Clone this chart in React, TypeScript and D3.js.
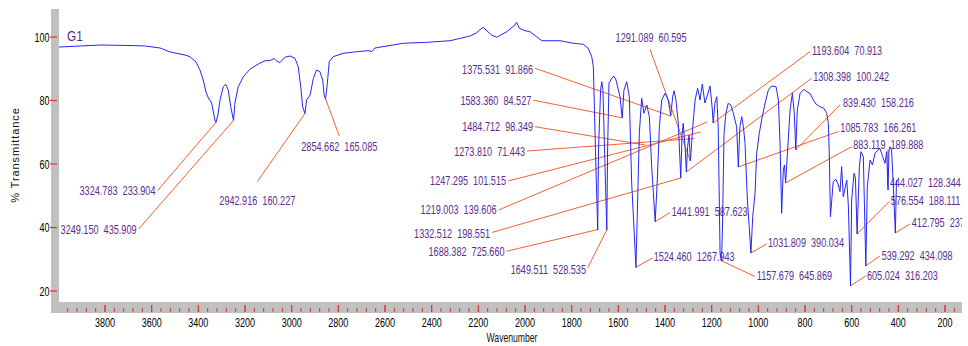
import * as d3 from "d3";

// spectrum (cm-1, %T)
const wavenumber = [
  3997, 3907, 3821, 3693, 3629, 3564, 3521, 3457, 3436, 3410, 3393, 3379, 3367, 3357, 3343, 3329,
  3324.8, 3316, 3307, 3293, 3283, 3272, 3261, 3249.2, 3243, 3229, 3207, 3179, 3143, 3114, 3093,
  3076, 3064, 3050, 3029, 3007, 2986, 2972, 2961, 2953, 2942.9, 2936, 2921, 2907, 2893, 2879,
  2867, 2861, 2854.7, 2847, 2839, 2822, 2779, 2721, 2673, 2656, 2643, 2522, 2421, 2321, 2236,
  2207, 2189, 2179, 2164, 2143, 2121, 2078, 2043, 2036, 2024, 2000, 1979, 1950, 1928, 1850,
  1793, 1750, 1729, 1714, 1707, 1698, 1688.4, 1685, 1676, 1671, 1666, 1659, 1649.5, 1646, 1640,
  1628, 1620, 1610, 1593, 1583.4, 1576, 1564, 1553, 1543, 1524.5, 1519, 1510, 1500, 1490, 1478,
  1467, 1457, 1442.0, 1433, 1424, 1414, 1400, 1386, 1375.5, 1367, 1361, 1353, 1343, 1332.5, 1327,
  1322, 1314, 1308.4, 1303, 1297, 1291.1, 1281, 1271, 1260, 1250, 1240, 1229, 1218, 1207, 1197,
  1193.6, 1186, 1178, 1172, 1164, 1157.7, 1154, 1147, 1139, 1129, 1118, 1107, 1093, 1085.8, 1079,
  1071, 1064, 1057, 1047, 1039, 1031.8, 1024, 1014, 1007, 996, 986, 971, 957, 943, 924, 914, 907,
  900, 893, 888, 883.1, 864, 854, 846, 839.4, 833, 821, 804, 791, 779, 764, 753, 736, 719, 707,
  700, 696, 691, 679, 667, 657, 650, 643, 636, 621, 614, 605.0, 600, 590, 584, 576.6, 567, 560,
  550, 539.3, 533, 521, 511, 500, 487, 479, 467, 457, 450, 444.0, 440, 436, 429, 424, 412.8, 408, 406,
];
const transmittance = [
  96.85, 97.17, 97.48, 97.32, 97.17, 96.54, 95.28, 94.33, 93.8, 92.13, 89.61, 86.46, 82.68, 80.79,
  79.21, 73.86, 73.07, 75.43, 80.16, 84.35, 85.1, 83.31, 78.05, 73.7, 79.21, 84.35, 87.5, 89.83,
  91.5, 92.54, 92.54, 93.23, 92.44, 91.91, 93.61, 94.02, 93.29, 90.65, 84.35, 78.05, 75.91, 80.16,
  81.73, 86.99, 89.61, 89.07, 86.46, 81.73, 80.47, 85.42, 92.22, 93.8, 94.87, 95.37, 95.69, 95.43,
  96.54, 98.02, 98.33, 98.83, 100.31, 101.35, 102.52, 103.06, 101.98, 100.63, 99.91, 101.67,
  103.78, 104.63, 102.74, 101.98, 101.67, 100.09, 98.83, 98.83, 98.02, 97.7, 96.44, 93.8, 90.65,
  64.41, 39.21, 64.41, 83.31, 85.92, 83.31, 64.41, 39.21, 64.41, 85.51, 86.99, 87.72, 86.46, 81.2,
  74.49, 83.31, 85.92, 81.2, 54.43, 27.4, 43.4, 69.67, 80.69, 75.97, 78.58, 74.9, 59.15, 41.83,
  54.96, 71.75, 80.16, 82.27, 80.16, 75.12, 81.2, 83.09, 80.16, 72.82, 55.59, 69.13, 72.82, 65.45,
  57.48, 65.45, 69.13, 60.94, 71.75, 80.16, 83.84, 80.16, 85.2, 79.21, 81.73, 84.57, 77.01, 72.91,
  79.12, 81.2, 71.75, 31.87, 29.45, 39.21, 69.67, 75.97, 79.12, 78.58, 75.97, 71.75, 59.06, 71.75,
  74.9, 71.75, 66.52, 48.66, 40.25, 31.97, 43.4, 50.77, 63.37, 69.67, 73.86, 79.12, 83.31, 84.57,
  84.35, 80.16, 66.52, 44.47, 58.11, 59.69, 54.02, 77.01, 82.27, 75.97, 64.41, 77.01, 82.27, 83.53,
  82.68, 82.27, 80.16, 78.9, 78.05, 77.54, 75.97, 72.82, 63.37, 43.4, 54.43, 55.18, 53.39, 51.28,
  59.15, 49.7, 54.96, 46.55, 21.57, 48.66, 57.07, 55.59, 37.95, 59.15, 63.87, 62.3, 27.87, 52.85,
  61.26, 59.69, 63.37, 64.41, 64.94, 62.3, 60.22, 63.87, 51.81, 64.41, 65.45, 64.41, 57.07, 38.27,
  54.65, 54.96,
];

// peak picks: wavenumber and intensity as printed
const peakWavenumbers = [
  3324.783, 3249.15, 2942.916, 2854.662, 1375.531, 1583.36, 1484.712, 1273.81, 1247.295, 1219.003,
  1332.512, 1688.382, 1649.511, 1291.089, 1193.604, 1308.398, 839.43, 1085.783, 883.119, 444.027,
  576.554, 412.795, 1441.991, 1031.809, 539.292, 1524.46, 1157.679, 605.024,
];
const peakIntensities = [
  233.904, 435.909, 160.227, 165.085, 91.866, 84.527, 98.349, 71.443, 101.515, 139.606, 198.551,
  725.66, 528.535, 60.595, 70.913, 100.242, 158.216, 166.261, 189.888, 128.344, 188.111, 237.514,
  587.623, 390.034, 434.098, 1267.943, 645.869, 316.203,
];

const xTickValues = [3800, 3600, 3400, 3200, 3000, 2800, 2600, 2400, 2200, 2000, 1800, 1600, 1400, 1200, 1000, 800, 600, 400, 200];
const yTickValues = [20, 40, 60, 80, 100];

// callout placement: leader start offset from tip (px), text offset from start, anchor, optional tip %T
const callouts: [number, number, number, number, string, number?][] = [
  [-58.4, 68.2, -2, 0, "end"],
  [-95, 108.8, -2, 0, "end"],
  [-47.7, 68.2, 0, 19.3, "middle"],
  [13.7, 37, 0, 10.7, "middle"],
  [-135.7, -47.7, -2, 1, "end"],
  [-88.9, -17.7, -2, 0.7, "end"],
  [-110.2, -18.3, -2, 0, "end", 65.98],
  [-167.4, 12.5, -2, 0, "end", 68.03],
  [-192.6, 49, -2, 0, "end", 70.08],
  [-208.7, 88, -2, 0, "end", 73.23],
  [-188.7, 54.5, -2, 0.8, "end"],
  [-91.2, 21.7, -2, 0.6, "end"],
  [-19.3, 38.3, -1.5, 1, "end"],
  [-40.4, -111.7, 1, -12, "middle"],
  [96.8, -71.3, 2, -1, "start"],
  [125.3, -93.7, 1.5, -1.3, "start"],
  [44.2, -45, 3, -2, "start"],
  [100, -35.3, 2, -3.7, "start"],
  [66.1, -36.3, 1.5, -1.7, "start"],
  [-0.6, 37, 2.5, -4.3, "start", 64.6],
  [32.2, -32.3, 1.5, -0.7, "start"],
  [14.7, -9, 1.7, -1.3, "start"],
  [14.8, -9, 1.7, -1, "start"],
  [15.8, -9, 1.3, -1.3, "start"],
  [14.2, -10, 1.7, 0, "start"],
  [16.7, -9.2, 1, -1, "start"],
  [33.5, 15.7, 1.7, -0.7, "start"],
  [15.5, -10, 1, 0, "start"],
];

const FONT = "'Liberation Sans', Arial, sans-serif";
const LABEL = "#5b2d8e";
const LEADER = "#f2622e";
const TICK = "#e8302a";
const BAND = "#c0c0c0";

function Condensed({ x, y, anchor = "start", size = 12, sx = 0.76, fill = "#000", children }: any) {
  return (
    <g transform={`translate(${x},${y}) scale(${sx},1)`}>
      <text textAnchor={anchor} dominantBaseline="central" fontSize={size} fontFamily={FONT} fill={fill}>
        {children}
      </text>
    </g>
  );
}

export default function App() {
  const width = 968;
  const height = 346;
  const left = 59;
  const right = 962;
  const top = 9;
  const bottom = 302;

  const x = d3.scaleLinear().domain([3800, 200]).range([105, 945]);
  const y = d3.scaleLinear().domain([100, 20]).range([37, 291]);

  const pts = wavenumber.map((w, i) => [w, transmittance[i]] as [number, number]);
  const line = d3
    .line<[number, number]>()
    .x((d) => x(d[0]))
    .y((d) => y(d[1]));

  const interp = (w: number) => {
    for (let i = 0; i < pts.length - 1; i++) {
      const [w0, t0] = pts[i];
      const [w1, t1] = pts[i + 1];
      if (w <= w0 && w >= w1) return t0 + ((w0 - w) / (w0 - w1)) * (t1 - t0);
    }
    return pts[pts.length - 1][1];
  };

  const minorTicks = d3.range(3960, x.invert(right), -40);

  return (
    <svg width={width} height={height} style={{ position: "absolute", left: 0, top: 0, background: "#fff" }}>
      <defs>
        <clipPath id="plot">
          <rect x={left} y={top} width={right - left} height={bottom - top} />
        </clipPath>
      </defs>

      {/* frame bands */}
      <rect x={51} y={top} width={left - 51} height={313 - top} fill={BAND} />
      <rect x={51} y={bottom} width={right - 51} height={11} fill={BAND} />

      {minorTicks.map((t) => {
        const major = Math.abs(t % 200) < 1e-6;
        return <line key={t} x1={x(t)} x2={x(t)} y1={major ? 305 : 308} y2={312} stroke={TICK} strokeWidth={1} />;
      })}
      {xTickValues.map((t) => (
        <line key={"M" + t} x1={x(t)} x2={x(t)} y1={305} y2={312} stroke={TICK} strokeWidth={1} />
      ))}
      {xTickValues.map((t) => (
        <Condensed key={"xl" + t} x={x(t)} y={322.5} anchor="middle" size={12} sx={0.75}>
          {t}
        </Condensed>
      ))}
      {yTickValues.map((t) => (
        <g key={"y" + t}>
          <line x1={50} x2={57} y1={y(t)} y2={y(t)} stroke={TICK} strokeWidth={1.2} />
          <Condensed x={49.5} y={y(t)} anchor="end" size={12} sx={0.75}>
            {t}
          </Condensed>
        </g>
      ))}

      <Condensed x={512} y={338} anchor="middle" size={12} sx={0.72} fill="#111">
        Wavenumber
      </Condensed>
      <text
        transform="translate(19,155) rotate(-90)"
        textAnchor="middle"
        fontSize={11}
        letterSpacing={0.9}
        fontFamily={FONT}
        fill="#111"
      >
        % Transmittance
      </text>

      <Condensed x={67} y={36} size={14} sx={0.85} fill={LABEL}>
        G1
      </Condensed>

      {/* peak callouts */}
      <g clipPath="url(#plot)">
        {peakWavenumbers.map((w, i) => {
          const [dx, dy, tx, ty, anchor, tipT] = callouts[i];
          const px = x(w);
          const py = y(tipT ?? interp(w));
          const sx = px + dx;
          const sy = py + dy;
          return (
            <g key={"pk" + i}>
              <line x1={sx} y1={sy} x2={px} y2={py} stroke={LEADER} strokeWidth={1} />
              <Condensed x={sx + tx} y={sy + ty} anchor={anchor} size={12} sx={0.76} fill={LABEL}>
                {`${w.toFixed(3)}\u00A0\u00A0${peakIntensities[i].toFixed(3)}`}
              </Condensed>
            </g>
          );
        })}
      </g>

      <path d={line(pts) ?? ""} fill="none" stroke="#2626f5" strokeWidth={1} clipPath="url(#plot)" />
    </svg>
  );
}
